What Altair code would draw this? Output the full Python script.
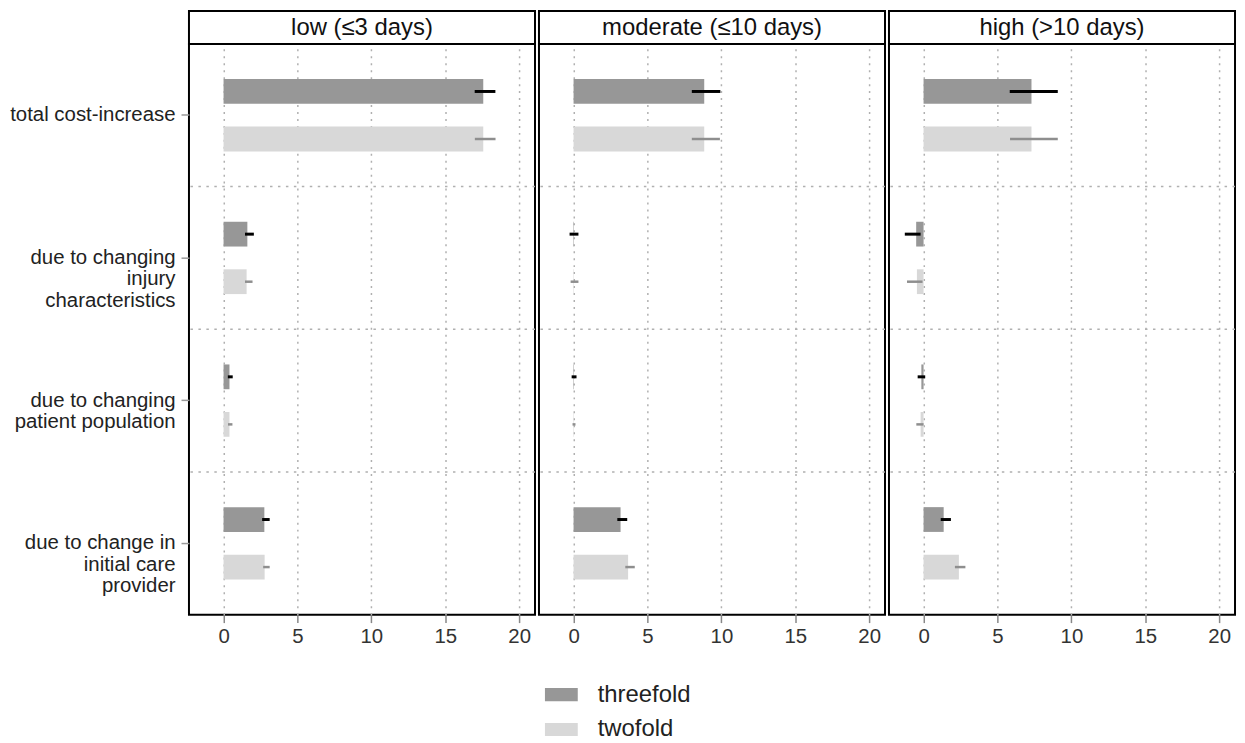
import altair as alt
import pandas as pd

FONT = "Liberation Sans"

levels = ["low (≤3 days)", "moderate (≤10 days)", "high (>10 days)"]
components = [
    "total cost-increase",
    "due to changing|injury|characteristics",
    "due to changing|patient population",
    "due to change in|initial care|provider",
]
series = ["threefold", "twofold"]

# point estimates and confidence limits, one list per level and series
low_threefold = [17.57, 1.61, 0.40, 2.76]
low_threefold_lo = [16.99, 1.45, 0.29, 2.61]
low_threefold_hi = [18.39, 2.05, 0.62, 3.12]
low_twofold = [17.57, 1.56, 0.40, 2.78]
low_twofold_lo = [17.00, 1.45, 0.30, 2.68]
low_twofold_hi = [18.40, 1.96, 0.60, 3.12]

mod_threefold = [8.84, 0.03, 0.03, 3.18]
mod_threefold_lo = [8.00, -0.27, -0.13, 2.96]
mod_threefold_hi = [9.93, 0.33, 0.20, 3.63]
mod_twofold = [8.84, 0.03, 0.03, 3.69]
mod_twofold_lo = [8.00, -0.20, -0.07, 3.50]
mod_twofold_hi = [9.90, 0.33, 0.13, 4.14]

high_threefold = [7.30, -0.50, -0.15, 1.36]
high_threefold_lo = [5.83, -1.27, -0.40, 1.16]
high_threefold_hi = [9.08, -0.20, 0.11, 1.85]
high_twofold = [7.30, -0.45, -0.20, 2.39]
high_twofold_lo = [5.85, -1.12, -0.49, 2.12]
high_twofold_hi = [9.08, -0.07, 0.00, 2.83]

x_ticks = [0, 5, 10, 15, 20]
x_domain = [-2.34, 21.07]

panel_values = {
    levels[0]: {
        "threefold": (low_threefold, low_threefold_lo, low_threefold_hi),
        "twofold": (low_twofold, low_twofold_lo, low_twofold_hi),
    },
    levels[1]: {
        "threefold": (mod_threefold, mod_threefold_lo, mod_threefold_hi),
        "twofold": (mod_twofold, mod_twofold_lo, mod_twofold_hi),
    },
    levels[2]: {
        "threefold": (high_threefold, high_threefold_lo, high_threefold_hi),
        "twofold": (high_twofold, high_twofold_lo, high_twofold_hi),
    },
}

W, H, HH = 348, 574, 33

xscale = alt.Scale(domain=x_domain, nice=False, zero=False)
xaxis = alt.Axis(
    values=x_ticks, grid=True, gridDash=[2, 5], gridColor="#b0b0b0", gridWidth=1.5,
    domain=False, ticks=True, tickColor="#888888", tickSize=8, tickWidth=1.5,
    labelFontSize=20.5, labelColor="#333333", labelPadding=4, title=None, format="d",
)
yscale = alt.Scale(domain=components, paddingInner=0, paddingOuter=0)
yoff_scale = alt.Scale(domain=series, paddingInner=0.479, paddingOuter=0.74)
yaxis_left = alt.Axis(
    orient="left", title=None, domain=False, ticks=True, tickColor="#999999", tickSize=8,
    tickWidth=1.5, labelFontSize=20.5, labelColor="#222222", labelPadding=6,
    labelExpr="split(datum.label, '|')", labelLineHeight=21.5, grid=False, labelLimit=400,
)
color_scale = alt.Scale(domain=series, range=["#979797", "#d8d8d8"])
err_colors = {"threefold": "#000000", "twofold": "#8e8e8e"}
err_widths = {"threefold": 3, "twofold": 2.5}
legend = alt.Legend(
    title=None, orient="none", legendX=358, legendY=671, direction="vertical",
    symbolType="M-1,-0.4H1V0.4H-1Z", symbolSize=1089, symbolStrokeWidth=0,
    symbolStrokeColor="transparent",
    labelFontSize=24, labelColor="#222222", labelOffset=20, rowPadding=6,
)


def panel(level, first):
    yax = yaxis_left if first else None
    rows = []
    for s in series:
        v, lo, hi = panel_values[level][s]
        for i, c in enumerate(components):
            rows.append({"component": c, "series": s,
                         "value": v[i], "lo": lo[i], "hi": hi[i]})
    df = pd.DataFrame(rows)
    base = alt.Chart(df)
    # dotted separators between the component groups (band boundaries)
    sep = alt.Chart(pd.DataFrame({"component": components[1:]})).mark_rule(
        color="#b0b0b0", strokeWidth=1.5, strokeDash=[2.5, 5.5]
    ).encode(
        y=alt.Y("component:N", scale=yscale, sort=components, bandPosition=0, axis=yax),
    )
    bars = base.mark_bar().encode(
        y=alt.Y("component:N", scale=yscale, sort=components, axis=yax),
        yOffset=alt.YOffset("series:N", scale=yoff_scale, sort=series),
        x=alt.X("value:Q", scale=xscale, axis=xaxis),
        color=alt.Color("series:N", scale=color_scale, legend=legend, sort=series),
    )
    layers = [sep, bars]
    for s in series:
        errs = base.transform_filter(alt.datum.series == s).mark_rule(
            color=err_colors[s], strokeWidth=err_widths[s]
        ).encode(
            y=alt.Y("component:N", scale=yscale, sort=components, axis=yax),
            yOffset=alt.YOffset("series:N", scale=yoff_scale, sort=series),
            x=alt.X("lo:Q", scale=xscale, axis=xaxis),
            x2="hi:Q",
        )
        layers.append(errs)
    plot = alt.layer(*layers).properties(width=W, height=H)
    hdr = alt.Chart(pd.DataFrame({"level": [level]})).mark_text(
        fontSize=24, color="#111111", font=FONT
    ).encode(
        text="level:N", x=alt.value(W / 2), y=alt.value(HH / 2 + 1)
    ).properties(width=W, height=HH)
    return alt.vconcat(hdr, plot, spacing=0, bounds="flush")


chart = alt.hconcat(
    *[panel(l, i == 0) for i, l in enumerate(levels)], spacing=0
).resolve_scale(
    color="shared"
).properties(
    padding={"left": 0, "top": 0, "right": 0, "bottom": 0}
).configure(
    font=FONT
).configure_view(
    stroke="black", strokeWidth=2
)

chart.save("out.html", embed_options={"renderer": "svg", "actions": False})
